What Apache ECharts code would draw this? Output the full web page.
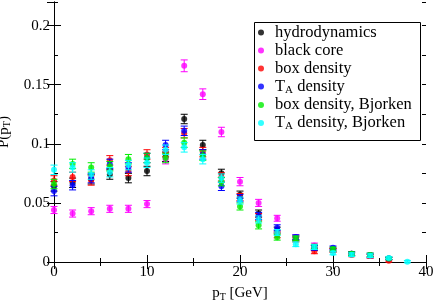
<!DOCTYPE html>
<html><head><meta charset="utf-8">
<script src="https://cdn.jsdelivr.net/npm/echarts@6/dist/echarts.min.js"></script>
<style>html,body{margin:0;padding:0;background:#fff}#c{width:436px;height:301px}</style>
</head><body><div id="c"></div>
<script>
// ---- data ----
const pT = [0,2,4,6,8,10,12,14,16,18,20,22,24,26,28,30,32,34,36,38];
const seriesNames = ['hydrodynamics','black core','box density','T_A density','box density, Bjorken','T_A density, Bjorken'];
const hydrodynamics = [0.064,0.067,0.070,0.074,0.071,0.077,0.089,0.121,0.099,0.075,0.057,0.041,0.027,0.020,0.012,0.010,0.007,0.005,0.003,null];
const blackCore     = [0.044,0.041,0.043,0.045,0.045,0.049,0.087,0.166,0.142,0.110,0.068,0.050,0.037,0.021,0.014,0.011,0.007,0.005,0.003,null];
const boxDensity    = [0.069,0.072,0.069,0.086,0.077,0.091,0.093,0.109,0.093,0.072,0.055,0.038,0.023,0.019,0.009,0.010,0.006,0.005,0.001,null];
const taDensity     = [0.060,0.065,0.071,0.083,0.080,0.088,0.099,0.111,0.091,0.064,0.054,0.039,0.029,0.021,0.012,0.012,0.007,0.006,0.003,null];
const boxBjorken    = [0.066,0.083,0.080,0.081,0.087,0.088,0.088,0.101,0.090,0.068,0.047,0.031,0.021,0.020,0.013,0.011,0.007,0.006,0.003,null];
const taBjorken     = [0.078,0.080,0.074,0.076,0.082,0.084,0.095,0.097,0.087,0.071,0.052,0.036,0.025,0.015,0.0126,0.0076,0.0062,0.0053,0.0034,0.0003];
const errors          = [0.004,0.004,0.004,0.004,0.004,0.004,0.004,0.004,0.004,0.0035,0.003,0.003,0.0025,0.002,0.002,0.0015,0.0015,0.0015,0.001,0.001];
const errorsBlackCore = [0.003,0.003,0.003,0.003,0.003,0.003,0.004,0.005,0.0045,0.004,0.0035,0.003,0.0025,0.002,0.002,0.0015,0.0015,0.0015,0.001,0.001];
const xTickValues = [0,10,20,30,40];
const yTickValues = [0,0.05,0.1,0.15,0.2];

// ---- styling ----
const colors = ['#000000','#ff00ff','#ff0000','#0000ff','#00ee00','#00ffff'];
const values = [hydrodynamics, blackCore, boxDensity, taDensity, boxBjorken, taBjorken];
const errs = [errors, errorsBlackCore, errors, errors, errors, errors];
const FONT = '"Liberation Serif", "DejaVu Serif", "Times New Roman", serif';
const rich = {
  t: {fontFamily: FONT, fontSize: 15, color: '#000', lineHeight: 18},
  s: {fontFamily: FONT, fontSize: 10, color: '#000', lineHeight: 8, verticalAlign: 'bottom'}
};
const legendRich = {
  t: {fontFamily: FONT, fontSize: 16.5, color: '#000', lineHeight: 18},
  s: {fontFamily: FONT, fontSize: 11, color: '#000', lineHeight: 8, verticalAlign: 'bottom'}
};
function fmtName(n) {
  if (n.startsWith('T_A')) return '{t|T}{s|A}{t|' + n.slice(3) + '}';
  return '{t|' + n + '}';
}

const series = [];
seriesNames.forEach((name, k) => {
  const data = [];
  pT.forEach((x, i) => { if (values[k][i] != null) data.push([x, values[k][i], errs[k][i]]); });
  series.push({
    type: 'custom', name: name + ' error', z: 2 + k * 2,
    renderItem: (params, api) => {
      const x = api.value(0), y = api.value(1), e = api.value(2);
      const a = api.coord([x, y + e]), b = api.coord([x, y - e]);
      const hw = 3.5, st = {stroke: colors[k], lineWidth: 1};
      return {type: 'group', children: [
        {type: 'line', shape: {x1: a[0], y1: a[1], x2: b[0], y2: b[1]}, style: st},
        {type: 'line', shape: {x1: a[0] - hw, y1: a[1], x2: a[0] + hw, y2: a[1]}, style: st},
        {type: 'line', shape: {x1: b[0] - hw, y1: b[1], x2: b[0] + hw, y2: b[1]}, style: st}
      ]};
    },
    data: data, silent: true
  });
  series.push({
    type: 'scatter', name: name, z: 3 + k * 2, symbol: 'circle', symbolSize: 6,
    itemStyle: {color: colors[k]}, data: data.map(d => [d[0], d[1]])
  });
});

const xBase = {type: 'value', min: xTickValues[0], max: xTickValues[xTickValues.length - 1], interval: 10,
  splitLine: {show: false}, axisLine: {show: true, lineStyle: {color: '#000', width: 1}}};
const yBase = {type: 'value', min: yTickValues[0], max: 0.22, interval: 0.05,
  splitLine: {show: false}, axisLine: {show: true, lineStyle: {color: '#000', width: 1}}};

const option = {
  animation: false,
  backgroundColor: '#fff',
  textStyle: {fontFamily: FONT},
  grid: {left: 54, right: 10, top: 2, bottom: 39, containLabel: false, outerBoundsMode: 'none'},
  xAxis: [
    Object.assign({}, xBase, {position: 'bottom',
      axisTick: {inside: true, length: 7, lineStyle: {color: '#000'}},
      minorTick: {show: true, splitNumber: 2, length: 4, lineStyle: {color: '#000'}},
      axisLabel: {fontFamily: FONT, fontSize: 15, color: '#000', margin: 3},
      name: '{t|p}{s|T}{t| [GeV]}', nameLocation: 'middle', nameGap: 22,
      nameTextStyle: {fontFamily: FONT, rich: rich}}),
    Object.assign({}, xBase, {position: 'top',
      axisTick: {inside: true, length: 7, lineStyle: {color: '#000'}},
      minorTick: {show: true, splitNumber: 2, length: 4, lineStyle: {color: '#000'}},
      axisLabel: {show: false}})
  ],
  yAxis: [
    Object.assign({}, yBase, {position: 'left',
      axisTick: {inside: true, length: 7, lineStyle: {color: '#000'}},
      axisLabel: {fontFamily: FONT, fontSize: 15, color: '#000', margin: 4, showMaxLabel: false},
      name: '{t|P(p}{s|T}{t|)}', nameLocation: 'middle', nameGap: 35, nameRotate: 90,
      nameTextStyle: {fontFamily: FONT, rich: rich}}),
    Object.assign({}, yBase, {position: 'right',
      axisTick: {inside: true, length: 7, lineStyle: {color: '#000'}},
      axisLabel: {show: false}}),
    Object.assign({}, yBase, {position: 'left', interval: 0.025, axisLine: {show: false},
      axisTick: {inside: true, length: 4, lineStyle: {color: '#000'}}, axisLabel: {show: false}}),
    Object.assign({}, yBase, {position: 'right', interval: 0.025, axisLine: {show: false},
      axisTick: {inside: true, length: 4, lineStyle: {color: '#000'}}, axisLabel: {show: false}})
  ],
  legend: {
    data: seriesNames, orient: 'vertical', left: 258, top: 24, padding: 0,
    itemWidth: 18, itemHeight: 6, itemGap: 1, icon: 'circle',
    formatter: fmtName, textStyle: {fontFamily: FONT, rich: legendRich}, selectedMode: false
  },
  graphic: [{type: 'rect', left: 252, top: 20, z: 100, silent: true,
    shape: {width: 166, height: 118}, style: {fill: 'none', stroke: '#000', lineWidth: 1}}],
  series: series
};
const chart = echarts.init(document.getElementById('c'), null, {renderer: 'canvas'});
chart.setOption(option);
</script>
</body></html>
